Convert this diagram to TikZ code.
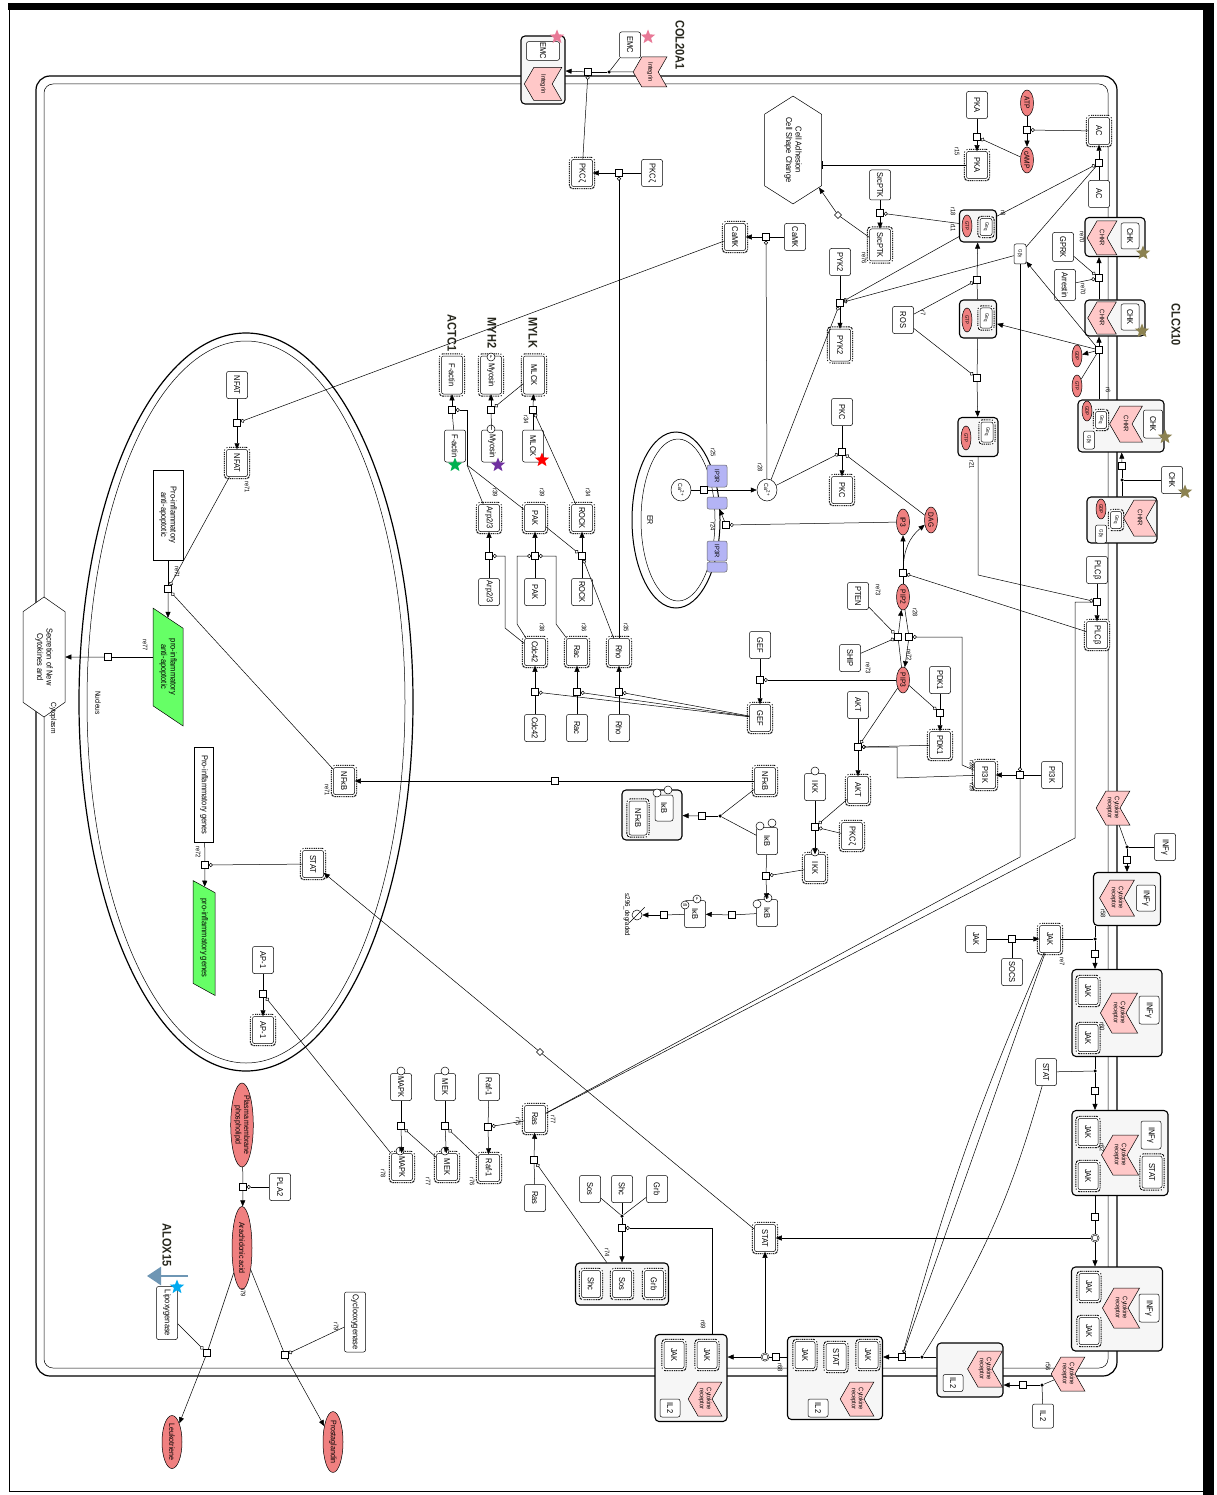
\documentclass[tikz,border=0pt]{standalone}
\usepackage{fontspec}
\setmainfont{Liberation Sans}[FakeStretch=0.88]
\usetikzlibrary{arrows.meta,shapes.geometric,shapes.symbols}
\definecolor{recpink}{RGB}{255,200,200}
\definecolor{smred}{RGB}{240,128,128}
\definecolor{ip3blue}{RGB}{180,180,245}
\definecolor{cpxgray}{RGB}{246,246,246}
\definecolor{genegreen}{RGB}{102,255,102}
\definecolor{starpink}{RGB}{232,120,150}
\definecolor{starolive}{RGB}{140,130,80}
\definecolor{starpurple}{RGB}{112,48,160}
\definecolor{stargreen}{RGB}{0,176,80}
\definecolor{starblue}{RGB}{0,170,240}
\definecolor{arrowblue}{RGB}{110,150,180}
\definecolor{genetext}{RGB}{40,40,30}
\tikzset{
  every node/.style={font=\fontsize{8.5}{9.5}\selectfont},
  prot/.style={draw, rounded corners=2pt, fill=white, rotate=-90, minimum width=27pt, minimum height=21pt, inner sep=1pt},
  act/.style={prot, preaction={draw, line width=5.4pt, dash pattern=on 1pt off 0.8pt}, preaction={draw=white, line width=3.4pt}},
  sm/.style={ellipse, draw, fill=smred, rotate=-90, minimum width=26pt, minimum height=13pt, inner sep=0pt, font=\fontsize{7.5}{8}\selectfont},
  bigsm/.style={sm, font=\fontsize{8}{8.5}\selectfont},
  smsm/.style={sm, minimum width=22pt, minimum height=10pt, font=\fontsize{5}{5}\selectfont},
  ion/.style={ellipse, draw, fill=white, rotate=-90, minimum width=22pt, minimum height=20pt, inner sep=0pt, font=\fontsize{6}{6.5}\selectfont},
  rec/.style={signal, signal to=south, signal from=north, signal pointer angle=120, draw, fill=recpink, rotate=-90, minimum width=30pt, minimum height=26pt, inner sep=0.5pt, align=center, font=\fontsize{6.5}{7}\selectfont},
  gsub/.style={act, minimum width=17pt, minimum height=12pt, inner sep=0.3pt, font=\fontsize{5}{5}\selectfont},
  gbg/.style={prot, minimum width=18pt, minimum height=11pt, inner sep=0.3pt, font=\fontsize{5}{5}\selectfont},
  cplx/.style={draw, line width=1.1pt, rounded corners=4pt, fill=cpxgray},
  pr/.style={draw, fill=white, minimum size=7pt, inner sep=0pt},
  dt/.style={circle, fill, minimum size=3.5pt, inner sep=0pt},
  dc/.style={circle, draw, double, fill=white, minimum size=7pt, inner sep=0pt},
  res/.style={circle, draw, fill=white, minimum size=8pt, inner sep=0pt, font=\fontsize{4}{4}\selectfont},
  hexa/.style={signal, signal to=east and west, draw, fill=white, rotate=-90, align=center},
  gen/.style={trapezium, trapezium left angle=56, trapezium right angle=124, trapezium stretches=true, draw, fill=genegreen, rotate=-90, align=center},
  txtbox/.style={draw, fill=white, rotate=-90, align=center, inner sep=2pt},
  ip3r/.style={draw=black!60, fill=ip3blue, rounded corners=2pt, rotate=-90, minimum height=20pt, inner sep=0.5pt, font=\fontsize{6.5}{6.5}\selectfont},
  star5/.style={star, star points=5, star point ratio=2.3, minimum size=15pt, inner sep=0pt},
  gene/.style={rotate=-90, font=\bfseries\fontsize{12.5}{12.5}\selectfont, text=genetext},
  lbl/.style={rotate=-90, font=\fontsize{6.5}{7}\selectfont},
  arr/.style={-{Triangle[length=6pt, width=5pt]}},
  cat/.style={-{Circle[open, length=4pt, width=4pt]}},
  inh/.style={-{Bar[width=8pt]}}
}
\begin{document}
\begin{tikzpicture}[x=1pt, y=-1pt, line width=0.5pt]
	\useasboundingbox (0,0) rectangle (1216,1495);
	\fill[white] (0,0) rectangle (1216,1495);
	\draw[line width=1pt] (9,9) -- (9,1491) -- (1205,1491);
	\fill (8,3) rectangle (1214,10);
	\fill (1203,3) rectangle (1214,1495);
	\draw[line width=1.2pt, rounded corners=14pt] (36,76) rectangle (1117,1376);
	\draw[rounded corners=9pt] (44,84) rectangle (1108,1368);
	\draw[line width=1.2pt] (246,702) ellipse [x radius=167pt, y radius=369pt];
	\draw (246,702) ellipse [x radius=159pt, y radius=361pt];
	\draw[line width=1pt] (676,520) ellipse [x radius=44pt, y radius=88pt];
	\draw (678,520) ellipse [x radius=37pt, y radius=81pt];
	\draw[arrowblue, line width=2.5pt, -{Triangle[length=14pt, width=18pt]}] (188,1276) -- (147,1276);

	\draw (543,70) node [cplx, minimum width=44pt, minimum height=68pt] (IntC) {};
	\draw (978,226) node [cplx, minimum width=37pt, minimum height=32pt] (GC1) {};
	\draw (978,319) node [cplx, minimum width=37pt, minimum height=38pt] (GC2) {};
	\draw (978,437) node [cplx, minimum width=40pt, minimum height=39pt] (GC3) {};
	\draw (1115,237) node [cplx, minimum width=60pt, minimum height=39pt] (CA) {};
	\draw (1115,318) node [cplx, minimum width=60pt, minimum height=36pt] (CB) {};
	\draw (1121,426) node [cplx, minimum width=86pt, minimum height=52pt] (CC) {};
	\draw (1122,520) node [cplx, minimum width=70pt, minimum height=46pt] (CD) {};
	\draw (652,815) node [cplx, minimum width=60pt, minimum height=50pt] (NFC) {};
	\draw (622,1284) node [cplx, minimum width=93pt, minimum height=42pt] (SSG) {};
	\draw (691,1378) node [cplx, minimum width=72pt, minimum height=87pt] (CE) {};
	\draw (835,1378) node [cplx, minimum width=95pt, minimum height=83pt] (CF) {};
	\draw (970,1370) node [cplx, minimum width=66pt, minimum height=54pt] (CG) {};
	\draw (1127,899) node [cplx, minimum width=67pt, minimum height=53pt] (CH) {};
	\draw (1117,1013) node [cplx, minimum width=90pt, minimum height=87pt] (CI) {};
	\draw (1120,1153) node [cplx, minimum width=96pt, minimum height=85pt] (CJ) {};
	\draw (1117,1309) node [cplx, minimum width=91pt, minimum height=84pt] (CK) {};

	\draw (680,45) node [gene] (gCOL) {COL20A1};
	\draw (630,45) node [prot, minimum width=26pt] (EMCf) {EMC};
	\draw (648,37) node [star5, fill=starpink] (sEMC) {};
	\draw (650,72) node [rec, minimum width=30pt, minimum height=28pt] (Intf) {Integrin};
	\draw (543,51) node [prot, minimum width=17pt, minimum height=33pt] (EMCc) {EMC};
	\draw (543,84) node [rec, minimum width=33pt, minimum height=30pt] (Intc) {Integrin};
	\draw (557,37) node [star5, fill=starpink] (sIntC) {};
	\draw (588,72) node [pr] (pInt) {};
	\draw (609,72) node [dt] (dInt) {};
	\draw (652,173) node [prot] (PKCzf) {PKCζ};
	\draw (582,173) node [act] (PKCz') {PKCζ};
	\draw (619,173) node [pr] (pPKCz) {};
	\draw (795,237) node [prot] (CaMKf) {CaMK};
	\draw (735,237) node [act] (CaMK') {CaMK};
	\draw (766,237) node [pr] (pCaMK) {};
	\draw (793,150) node [hexa, minimum width=98pt, minimum height=57pt, signal pointer angle=115] (Adh) {Cell Adhesion\\Cell Shape Change};
	\draw (977,105) node [prot] (PKAf) {PKA};
	\draw (977,165) node [act] (PKA') {PKA};
	\draw (977,137) node [pr] (pPKA) {};
	\draw (1027,103) node [sm] (ATP) {ATP};
	\draw (1027,160) node [sm] (cAMP) {cAMP};
	\draw (1027,130) node [pr] (pcAMP) {};
	\draw (1099,131) node [act] (AC') {AC};
	\draw (1099,194) node [prot] (ACf) {AC};
	\draw (1099,163) node [pr] (pAC) {};
	\draw (880,185) node [prot, minimum width=30pt] (Srcf) {SrcPTK};
	\draw (880,245) node [act, minimum width=32pt] (Src') {SrcPTK};
	\draw (880,213) node [pr] (pSrc) {};
	\draw (838,215) node [pr, rotate=45, minimum size=5pt] (pAdh) {};
	\draw (840,262) node [prot] (PYKf) {PYK2};
	\draw (840,345) node [act, minimum width=32pt] (PYK') {PYK2};
	\draw (840,303) node [pr] (pPYK) {};

	\draw (967,226) node [smsm] (GTP1) {GTP};
	\draw (986,227) node [gsub] (Ga1) {Gα\textsubscript{q}};
	\draw (967,320) node [smsm, minimum width=24pt] (GTP2) {GTP};
	\draw (986,318) node [gsub, minimum width=20pt] (Ga2) {Gα\textsubscript{q}};
	\draw (966,438) node [smsm, minimum width=24pt] (GTP3) {GTP};
	\draw (987,432) node [gsub, minimum width=20pt] (Ga3) {Gα\textsubscript{q}};
	\draw (977,280) node [pr] (pG12) {};
	\draw (977,378) node [pr] (pG23) {};
	\draw (903,320) node [prot] (ROS) {ROS};
	\draw (1020,254) node [gbg, minimum width=20pt, minimum height=12pt] (Gbg) {Gβγ};
	\draw (1063,247) node [prot, minimum width=29pt] (GPRK) {GPRK};
	\draw (1065,285) node [prot, minimum width=31pt] (Arr) {Arrestin};

	\draw (1102,238) node [rec, minimum width=34pt, minimum height=20pt] (CHKRa) {CHKR};
	\draw (1130,236) node [prot, minimum width=26pt, minimum height=18pt] (CHKa) {CHK};
	\draw (1143,253) node [star5, fill=starolive] (sCA) {};
	\draw (1099,278) node [pr] (pCA) {};
	\draw (1102,318) node [rec, minimum width=32pt, minimum height=20pt] (CHKRb) {CHKR};
	\draw (1130,317) node [prot, minimum width=26pt, minimum height=18pt] (CHKb) {CHK};
	\draw (1142,331) node [star5, fill=starolive] (sCB) {};
	\draw (1099,350) node [pr] (pCB) {};
	\draw (1077,356) node [smsm] (GDPb) {GDP};
	\draw (1077,386) node [smsm] (GTPb) {GTP};
	\draw (1153,424) node [prot, minimum width=28pt, minimum height=19pt] (CHKc) {CHK};
	\draw (1126,424) node [rec, minimum width=36pt, minimum height=22pt] (CHKRc) {CHKR};
	\draw (1101,420) node [gsub, minimum height=11pt] (Gac) {Gα\textsubscript{q}};
	\draw (1087,411) node [smsm, minimum width=20pt] (GDPc) {GDP};
	\draw (1089,440) node [gbg] (Gbgc) {Gβγ};
	\draw (1165,437) node [star5, fill=starolive] (sCC) {};
	\draw (1172,480) node [prot] (CHKf) {CHK};
	\draw (1185,492) node [star5, fill=starolive] (sCHK) {};
	\draw (1122,480) node [dt] (dCC) {};
	\draw (1122,466) node [pr] (pCC) {};
	\draw (1140,518) node [rec, minimum width=36pt, minimum height=22pt] (CHKRd) {CHKR};
	\draw (1116,520) node [gsub, minimum height=11pt] (Gad) {Gα\textsubscript{q}};
	\draw (1101,509) node [smsm, minimum width=20pt] (GDPd) {GDP};
	\draw (1101,534) node [gbg] (Gbgd) {Gβγ};
	\draw (1176,325) node [gene] (gCLC) {CLCX10};

	\draw (1097,570) node [prot] (PLCf) {PLCβ};
	\draw (1097,635) node [act] (PLC') {PLCβ};
	\draw (1097,602) node [pr] (pPLC) {};
	\draw (1052,775) node [prot] (PI3Kf) {PI3K};
	\draw (985,775) node [act] (PI3K') {PI3K};
	\draw (1020,775) node [pr] (pPI3K) {};
	\coordinate (kG3) at (978,575);
	\coordinate (kP1) at (1075,838);
	\coordinate (kP2) at (1020,857);
	\coordinate (kPI) at (962,765);
	\coordinate (kPA) at (897,778);

	\draw (931,520) node [sm] (DAG) {DAG};
	\draw (903,522) node [sm] (IP3) {IP3};
	\draw (903,597) node [sm] (PIP2) {PIP2};
	\draw (903,680) node [sm] (PIP3) {PIP3};
	\draw (903,573) node [pr] (pPIP2) {};
	\draw (898,637) node [pr] (pPIP3a) {};
	\draw (909,637) node [pr] (pPIP3b) {};
	\draw (858,596) node [prot] (PTEN) {PTEN};
	\draw (850,658) node [prot] (SHIP) {SHIP};
	\draw (842,412) node [prot] (PKCf) {PKC};
	\draw (842,490) node [act] (PKC') {PKC};
	\draw (842,452) node [pr] (pPKC) {};
	\draw (940,680) node [prot] (PDKf) {PDK1};
	\draw (940,745) node [act] (PDK') {PDK1};
	\draw (940,713) node [pr] (pPDK) {};
	\draw (858,705) node [prot] (AKTf) {AKT};
	\draw (858,790) node [act] (AKT') {AKT};
	\draw (858,747) node [pr] (pAKT) {};
	\draw (760,645) node [prot] (GEFf) {GEF};
	\draw (760,718) node [act] (GEF') {GEF};
	\draw (760,680) node [pr] (pGEF) {};
	\draw (767,490) node [ion] (Ca') {Ca\textsuperscript{2+}};
	\draw (681,490) node [ion] (CaER) {Ca\textsuperscript{2+}};
	\draw (717,476) node [ip3r, minimum width=22pt] (IPR1) {IP3R};
	\draw (717,503) node [ip3r, minimum width=12pt] (IPR2) {};
	\draw (717,551) node [ip3r, minimum width=20pt] (IPR3) {IP3R};
	\draw (717,567) node [ip3r, minimum width=10pt] (IPR4) {};
	\draw (704,490) node [pr] (pCa) {};
	\draw (726,525) node [pr] (pIP3) {};

	\draw (619,652) node [act] (Rho') {Rho};
	\draw (619,728) node [prot] (Rhof) {Rho};
	\draw (619,692) node [pr] (pRho) {};
	\draw (577,652) node [act] (Rac') {Rac};
	\draw (577,728) node [prot] (Racf) {Rac};
	\draw (577,692) node [pr] (pRac) {};
	\draw (535,652) node [act] (Cdc') {Cdc42};
	\draw (535,728) node [prot] (Cdcf) {Cdc42};
	\draw (535,692) node [pr] (pCdc) {};
	\draw (582,518) node [act] (ROCK') {ROCK};
	\draw (582,592) node [prot] (ROCKf) {ROCK};
	\draw (582,556) node [pr] (pROCK) {};
	\draw (535,518) node [act] (PAK') {PAK};
	\draw (535,592) node [prot] (PAKf) {PAK};
	\draw (535,556) node [pr] (pPAK) {};
	\draw (489,518) node [act] (Arp') {Arp2/3};
	\draw (489,592) node [prot] (Arpf) {Arp2/3};
	\draw (489,556) node [pr] (pArp) {};
	\coordinate (kC1) at (505,628);
	\coordinate (kC2) at (517,624);
	\coordinate (kC3) at (556,624);
	\coordinate (kF) at (467,465);
	\draw (534,375) node [act, minimum width=38pt] (MLCK') {MLCK};
	\draw (533,446) node [prot, minimum width=32pt] (MLCKf) {MLCK};
	\draw (533,410) node [pr] (pMLCK) {};
	\draw (491,375) node [act, minimum width=38pt] (Myo') {Myosin};
	\draw (492,446) node [prot, minimum width=32pt] (Myof) {Myosin};
	\draw (491,410) node [pr] (pMyo) {};
	\draw (452,375) node [act, minimum width=38pt] (FA') {F-actin};
	\draw (455,446) node [prot, minimum width=32pt] (FAf) {F-actin};
	\draw (452,410) node [pr] (pFA) {};
	\draw (542,460) node [star5, fill=red] (sMLCK) {};
	\draw (498,465) node [star5, fill=starpurple] (sMyo) {};
	\draw (455,465) node [star5, fill=stargreen] (sFA) {};
	\draw (533,333) node [gene] (gMYLK) {MYLK};
	\draw (492,333) node [gene] (gMYH) {MYH2};
	\draw (452,333) node [gene] (gACT) {ACTC1};

	\draw (765,781) node [act] (NFf) {NFκB};
	\draw (815,787) node [prot] (IKKf) {IKK};
	\draw (815,868) node [act] (IKK') {IKK};
	\draw (815,827) node [pr] (pIKK) {};
	\draw (852,836) node [act] (PKCz2) {PKCζ};
	\draw (767,841) node [prot] (IkBf) {IκB};
	\draw (766,876) node [pr] (pIkB) {};
	\draw (767,913) node [prot] (IkBP) {IκB};
	\draw (732,915) node [pr] (pIkB2) {};
	\draw (695,914) node [prot] (IkBPU) {IκB};
	\draw (664,915) node [pr] (pDeg) {};
	\draw (637,915) node [circle, draw, minimum size=10pt, inner sep=0pt] (Deg) {};
	\draw (627,915) node [lbl, font=\fontsize{7}{7}\selectfont] (lDeg) {s296\_degraded};
	\draw (638,818) node [act, minimum width=34pt, minimum height=18pt] (NFc) {NFκB};
	\draw (664,808) node [prot, minimum width=26pt, minimum height=18pt] (IkBc) {IκB};
	\draw (720,816) node [dt] (dNF) {};
	\draw (702,816) node [pr] (pNF) {};
	\draw (555,781) node [pr] (pNFn) {};

	\draw (237,385) node [prot] (NATf) {NFAT};
	\draw (237,463) node [act] (NAT') {NFAT};
	\draw (237,423) node [pr] (pNAT) {};
	\draw (168,515) node [txtbox, minimum width=90pt, minimum height=30pt] (PAA) {Pro-inflammatory\\anti-apoptotic};
	\draw (168,589) node [pr] (pPAA) {};
	\draw (168,667) node [gen, minimum width=119pt, minimum height=30pt] (PAAg) {pro-inflammatory\\anti-apoptotic};
	\draw (108,657) node [pr] (pSec) {};
	\draw (44,657) node [hexa, minimum width=120pt, minimum height=42pt, signal pointer angle=110] (Sec) {Secretion of New\\Cytokines and};
	\draw (344,781) node [act] (NFn) {NFκB};
	\draw (204,795) node [txtbox, minimum width=95pt, minimum height=19pt] (PIG) {Pro-inflammatory genes};
	\draw (205,865) node [pr] (pPIG) {};
	\draw (204,938) node [gen, trapezium left angle=52, trapezium right angle=128, minimum width=115pt, minimum height=22pt] (PIGg) {pro-inflammatory genes};
	\draw (313,864) node [act] (STn) {STAT};
	\draw (263,960) node [prot] (AP1f) {AP-1};
	\draw (263,1030) node [act] (AP1') {AP-1};
	\draw (263,994) node [pr] (pAP1) {};

	\draw (242,1125) node [bigsm, minimum width=84pt, minimum height=21pt, align=center] (PMP) {Plasma membrane\\phospholipid};
	\draw (243,1187) node [pr] (pPLA) {};
	\draw (280,1187) node [prot] (PLA2) {PLA2};
	\draw (242,1248) node [bigsm, minimum width=83pt, minimum height=20pt] (AA) {Arachidonic acid};
	\draw (167,1313) node [prot, minimum width=53pt] (Lip) {Lipoxygenase};
	\draw (355,1322) node [prot, minimum width=60pt] (Cyc) {Cyclooxygenase};
	\draw (207,1353) node [pr] (pLip) {};
	\draw (285,1355) node [pr] (pCyc) {};
	\draw (172,1442) node [bigsm, minimum width=53pt, minimum height=20pt] (Leu) {Leukotriene};
	\draw (333,1442) node [bigsm, minimum width=50pt, minimum height=20pt] (Pro) {Prostaglandin};
	\draw (167,1245) node [gene] (gALOX) {ALOX15};
	\draw (177,1287) node [star5, fill=starblue] (sLip) {};

	\draw (401,1087) node [prot] (MAPKf) {MAPK};
	\draw (402,1167) node [act] (MAPK') {MAPK};
	\draw (401,1126) node [pr] (pMAPK) {};
	\draw (445,1087) node [prot] (MEKf) {MEK};
	\draw (447,1167) node [act] (MEK') {MEK};
	\draw (445,1126) node [pr] (pMEK) {};
	\draw (489,1087) node [prot] (Raff) {Raf-1};
	\draw (489,1168) node [act] (Raf') {Raf-1};
	\draw (488,1127) node [pr] (pRaf) {};
	\draw (535,1119) node [act] (Ras') {Ras};
	\draw (535,1198) node [prot] (Rasf) {Ras};
	\draw (534,1160) node [pr] (pRas) {};
	\draw (590,1189) node [prot] (Sos) {Sos};
	\draw (622,1189) node [prot] (Shc) {Shc};
	\draw (657,1189) node [prot] (Grb) {Grb};
	\draw (622,1216) node [dt] (dSSG) {};
	\draw (622,1228) node [pr] (pSSG) {};
	\draw (591,1284) node [act, minimum height=19pt] (Shcc) {Shc};
	\draw (622,1284) node [act, minimum height=19pt] (Sosc) {Sos};
	\draw (654,1284) node [act, minimum height=19pt] (Grbc) {Grb};
	\coordinate (kE) at (712,1228);

	\draw (765,1238) node [act] (ST2) {STAT};
	\draw (540,1052) node [pr, rotate=45, minimum size=5pt] (pSTn) {};
	\draw (674,1355) node [act, minimum height=20pt] (jE1) {JAK};
	\draw (707,1355) node [act, minimum height=20pt] (jE2) {JAK};
	\draw (705,1399) node [rec, minimum width=34pt, minimum height=24pt] (crE) {Cytokine\\receptor};
	\draw (670,1408) node [prot, minimum width=18pt, minimum height=20pt] (ilE) {IL2};
	\draw (765,1357) node [dc] (dcE) {};
	\draw (776,1357) node [pr] (pE) {};
	\draw (805,1355) node [act, minimum height=20pt] (jF1) {JAK};
	\draw (836,1357) node [act, minimum height=20pt] (sF) {STAT};
	\draw (868,1355) node [act, minimum height=20pt] (jF2) {JAK};
	\draw (857,1399) node [rec, minimum width=34pt, minimum height=24pt] (crF) {Cytokine\\receptor};
	\draw (818,1408) node [prot, minimum width=18pt, minimum height=20pt] (ilF) {IL2};
	\draw (902,1357) node [pr] (pF) {};
	\draw (922,1357) node [dt] (dF) {};
	\draw (985,1369) node [rec, minimum width=36pt, minimum height=26pt] (crG) {Cytokine\\receptor};
	\draw (953,1383) node [prot, minimum width=17pt, minimum height=20pt] (ilG) {IL2};
	\draw (1023,1385) node [pr] (pG) {};
	\draw (1042,1385) node [dt] (dG) {};
	\draw (1043,1416) node [prot, minimum width=24pt] (IL2f) {IL2};
	\draw (1068,1374) node [rec, minimum width=34pt, minimum height=26pt] (CRg) {Cytokine\\receptor};

	\draw (1113,808) node [rec, minimum width=34pt, minimum height=26pt] (CRh) {Cytokine\\receptor};
	\draw (1165,847) node [prot] (INFf) {INFγ};
	\draw (1127,847) node [dt] (dH) {};
	\draw (1127,860) node [pr] (pH) {};
	\draw (1117,898) node [rec, minimum width=36pt, minimum height=24pt] (crH) {Cytokine\\receptor};
	\draw (1146,898) node [prot, minimum width=26pt, minimum height=19pt] (inH) {INFγ};
	\draw (976,939) node [prot] (JAKf) {JAK};
	\draw (1012,939) node [pr] (pJ) {};
	\draw (1012,972) node [prot] (SOCS) {SOCS};
	\draw (1050,939) node [act] (JAK') {JAK};
	\draw (1095,939) node [dt] (dI) {};
	\draw (1095,954) node [pr] (pI) {};
	\draw (1088,991) node [act, minimum height=20pt] (jI1) {JAK};
	\draw (1088,1038) node [act, minimum height=20pt] (jI2) {JAK};
	\draw (1119,1013) node [rec, minimum width=40pt, minimum height=24pt] (crI) {Cytokine\\receptor};
	\draw (1149,1010) node [prot, minimum width=28pt, minimum height=20pt] (inI) {INFγ};
	\draw (1046,1072) node [prot] (STATf) {STAT};
	\draw (1095,1071) node [dt] (dJ) {};
	\draw (1095,1091) node [pr] (pJ2) {};
	\draw (1088,1132) node [act, minimum height=20pt] (jJ1) {JAK};
	\draw (1088,1176) node [act, minimum height=20pt] (jJ2) {JAK};
	\draw (1120,1155) node [rec, minimum width=40pt, minimum height=24pt] (crJ) {Cytokine\\receptor};
	\draw (1151,1135) node [prot, minimum width=28pt, minimum height=20pt] (inJ) {INFγ};
	\draw (1152,1172) node [act, minimum width=32pt, minimum height=20pt] (sJ) {STAT};
	\draw (1095,1217) node [pr] (pK) {};
	\draw (1095,1238) node [dc] (dcK) {};
	\draw (1089,1287) node [act, minimum height=20pt] (jK1) {JAK};
	\draw (1089,1331) node [act, minimum height=20pt] (jK2) {JAK};
	\draw (1121,1308) node [rec, minimum width=40pt, minimum height=24pt] (crK) {Cytokine\\receptor};
	\draw (1149,1308) node [prot, minimum width=28pt, minimum height=20pt] (inK) {INFγ};

	\draw (401,1071) node [res] (c1) {};
	\draw (445,1071) node [res] (c2) {};
	\draw (400,1151) node [res] (c3) {P};
	\draw (445,1151) node [res] (c4) {P};
	\draw (815,771) node [res] (c5) {};
	\draw (815,852) node [res] (c6) {P};
	\draw (760,826) node [res] (c7) {};
	\draw (772,823) node [res] (c8) {};
	\draw (768,898) node [res] (c9) {P};
	\draw (757,904) node [res] (c10) {};
	\draw (697,899) node [res] (c11) {P};
	\draw (685,905) node [res] (c12) {Ub};
	\draw (491,357) node [res] (c13) {P};
	\draw (491,429) node [res] (c14) {};
	\draw (657,793) node [res] (c15) {};
	\draw (668,790) node [res] (c16) {};

	\draw (EMCf) -- (dInt);
	\draw (Intf) -- (dInt);
	\draw (dInt) -- (pInt);
	\draw[arr] (pInt) -- (IntC);
	\draw[cat] (PKCz') -- (pInt);
	\draw (PKCzf) -- (pPKCz);
	\draw[arr] (pPKCz) -- (PKCz');
	\draw[cat] (Rho') -- (pPKCz);
	\draw (CaMKf) -- (pCaMK);
	\draw[arr] (pCaMK) -- (CaMK');
	\draw[cat] (Ca') -- (pCaMK);
	\draw[cat] (CaMK') -- (pNAT);
	\draw (PKAf) -- (pPKA);
	\draw[arr] (pPKA) -- (PKA');
	\draw[cat] (cAMP) -- (pPKA);
	\draw[inh] (PKA') -- (Adh.north |- PKA');
	\draw (ATP) -- (pcAMP);
	\draw[arr] (pcAMP) -- (cAMP);
	\draw[cat] (AC') -- (pcAMP);
	\draw (ACf) -- (pAC);
	\draw[arr] (pAC) -- (AC');
	\draw[cat] (GC1) -- (pAC);
	\draw (Gbg) -- (pAC);
	\draw (Srcf) -- (pSrc);
	\draw[arr] (pSrc) -- (Src');
	\draw[cat] (GC1) -- (pSrc);
	\draw[arr] (Src') -- (pAdh) -- (Adh);
	\draw (PYKf) -- (pPYK);
	\draw[arr] (pPYK) -- (PYK');
	\draw[cat] (GC1) -- (pPYK);
	\draw[cat] (Gbg) -- (pPYK);
	\draw[cat] (Ca') -- (pPYK);
	\draw (GC2) -- (pG12);
	\draw[arr] (pG12) -- (GC1);
	\draw[cat] (ROS) -- (pG12);
	\draw (GC2) -- (pG23);
	\draw[arr] (pG23) -- (GC3);
	\draw[cat] (ROS) -- (pG23);
	\draw (pCA |- CB.north) -- (pCA);
	\draw[arr] (pCA) -- (pCA |- CA.south);
	\draw[cat] (GPRK) -- (pCA);
	\draw[cat] (Arr) -- (pCA);
	\draw (pCB |- CC.north) -- (pCB);
	\draw[arr] (pCB) -- (pCB |- CB.south);
	\draw[arr] (pCB) -- (GDPb);
	\draw (GTPb) -- (pCB);
	\draw[arr] (pCB) -- (GC2);
	\draw[arr] (pCB) -- (Gbg);
	\draw (CD) -- (dCC);
	\draw (CHKf) -- (dCC);
	\draw (dCC) -- (pCC);
	\draw[arr] (pCC) -- (CC);
	\draw (PLCf) -- (pPLC);
	\draw[arr] (pPLC) -- (PLC');
	\draw[cat] (GC3) -- (kG3) -- (pPLC);
	\draw (pPLC) -| (kP1) -- (Ras');
	\draw[cat] (PLC') -- (pPIP2);
	\draw[cat] (Gbg) -- (pPI3K);
	\draw (pPI3K) -- (kP2) -- (Ras');
	\draw (PI3Kf) -- (pPI3K);
	\draw[arr] (pPI3K) -- (PI3K');
	\draw[cat] (PI3K') -- (kPI) |- (pPIP3b);
	\draw[cat] (PI3K') -- (kPA) |- (pAKT);

	\draw (PIP2) -- (pPIP2);
	\draw[arr] (pPIP2) -- (IP3);
	\draw[arr] (pPIP2) to[bend left=25] (DAG);
	\draw (PIP3) -- (pPIP3a);
	\draw[arr] (pPIP3a) -- (PIP2);
	\draw (PIP2) -- (pPIP3b);
	\draw[arr] (pPIP3b) -- (PIP3);
	\draw[cat] (PTEN) -- (pPIP3a);
	\draw[cat] (SHIP) -- (pPIP3a);
	\draw[cat] (IP3) -- (pIP3);
	\draw[cat] (DAG) -- (pPKC);
	\draw (PKCf) -- (pPKC);
	\draw[arr] (pPKC) -- (PKC');
	\draw[cat] (Ca') -- (pPKC);
	\draw (PDKf) -- (pPDK);
	\draw[arr] (pPDK) -- (PDK');
	\draw[cat] (PIP3) -- (pPDK);
	\draw[cat] (PDK') -- (pAKT);
	\draw (AKTf) -- (pAKT);
	\draw[arr] (pAKT) -- (AKT');
	\draw[cat] (PIP3) -- (pAKT);
	\draw (GEFf) -- (pGEF);
	\draw[arr] (pGEF) -- (GEF');
	\draw[cat] (PIP3) -- (pGEF);
	\draw (CaER) -- (pCa);
	\draw[arr] (pCa) -- (Ca');
	\draw[arr] (pIP3) -- (IPR2);

	\draw (Rhof) -- (pRho);
	\draw[arr] (pRho) -- (Rho');
	\draw (Racf) -- (pRac);
	\draw[arr] (pRac) -- (Rac');
	\draw (Cdcf) -- (pCdc);
	\draw[arr] (pCdc) -- (Cdc');
	\draw[cat] (GEF') -- (pRho);
	\draw[cat] (GEF') -- (pRac);
	\draw[cat] (GEF') -- (pCdc);
	\draw (ROCKf) -- (pROCK);
	\draw[arr] (pROCK) -- (ROCK');
	\draw (PAKf) -- (pPAK);
	\draw[arr] (pPAK) -- (PAK');
	\draw (Arpf) -- (pArp);
	\draw[arr] (pArp) -- (Arp');
	\draw[cat] (Rho') -- (pROCK);
	\draw[cat] (PAK') -- (pROCK);
	\draw[cat] (Cdc') -- (kC1) |- (pArp);
	\draw[cat] (Cdc') -- (kC2) |- (pPAK);
	\draw[cat] (Rac') -- (kC3) |- (pPAK);
	\draw (MLCKf) -- (pMLCK);
	\draw[arr] (pMLCK) -- (MLCK');
	\draw[cat] (ROCK') -- (pMLCK);
	\draw (Myof) -- (pMyo);
	\draw[arr] (pMyo) -- (Myo');
	\draw[cat] (MLCK') -- (pMyo);
	\draw (FAf) -- (pFA);
	\draw[arr] (pFA) -- (FA');
	\draw (PAK') -- (kF);
	\draw (Arp') -- (kF);
	\draw[cat] (kF) |- (pFA);

	\draw (NFf) -- (dNF);
	\draw (IkBf) -- (dNF);
	\draw (dNF) -- (pNF);
	\draw[arr] (pNF) -- (NFC);
	\draw (IkBf) -- (pIkB);
	\draw[arr] (pIkB) -- (IkBP);
	\draw[cat] (IKK') -- (pIkB);
	\draw (IkBP) -- (pIkB2);
	\draw[arr] (pIkB2) -- (IkBPU);
	\draw (IkBPU) -- (pDeg);
	\draw[arr] (pDeg) -- (Deg);
	\draw ([shift={(4,-4)}]Deg.north east) -- ([shift={(-4,4)}]Deg.south west);
	\draw (IKKf) -- (pIKK);
	\draw[arr] (pIKK) -- (IKK');
	\draw[cat] (AKT') -- (pIKK);
	\draw[cat] (PKCz2) -- (pIKK);
	\draw (NFf) -- (pNFn);
	\draw[arr] (pNFn) -- (NFn);

	\draw (NATf) -- (pNAT);
	\draw[arr] (pNAT) -- (NAT');
	\draw[cat] (NAT') -- (pPAA);
	\draw (PAA) -- (pPAA);
	\draw[arr] (pPAA) -- (PAAg);
	\draw[cat] (NFn) -- (pPAA);
	\draw (PAAg.south |- pSec) -- (pSec);
	\draw[arr] (pSec) -- (Sec);
	\draw (PIG) -- (pPIG);
	\draw[arr] (pPIG) -- (PIGg);
	\draw[cat] (STn) -- (pPIG);
	\draw (AP1f) -- (pAP1);
	\draw[arr] (pAP1) -- (AP1');
	\draw[cat] (MAPK') -- (pAP1);

	\draw (PMP) -- (pPLA);
	\draw[arr] (pPLA) -- (AA);
	\draw[cat] (PLA2) -- (pPLA);
	\draw (AA) -- (pLip);
	\draw[arr] (pLip) -- (Leu);
	\draw[cat] (Lip) -- (pLip);
	\draw (AA) -- (pCyc);
	\draw[arr] (pCyc) -- (Pro);
	\draw[cat] (Cyc) -- (pCyc);

	\draw (Raff) -- (pRaf);
	\draw[arr] (pRaf) -- (Raf');
	\draw[cat] (Ras') -- (pRaf);
	\draw (MEKf) -- (pMEK);
	\draw[arr] (pMEK) -- (MEK');
	\draw[cat] (Raf') -- (pMEK);
	\draw (MAPKf) -- (pMAPK);
	\draw[arr] (pMAPK) -- (MAPK');
	\draw[cat] (MEK') -- (pMAPK);
	\draw (Rasf) -- (pRas);
	\draw[arr] (pRas) -- (Ras');
	\draw[cat] (SSG) -- (pRas);
	\draw (Sos) -- (dSSG);
	\draw (Shc) -- (dSSG);
	\draw (Grb) -- (dSSG);
	\draw (dSSG) -- (pSSG);
	\draw[arr] (pSSG) -- (SSG);
	\draw[cat] (kE |- CE.north) -- (kE) -- (pSSG);
	\draw (ST2) -- (pSTn);
	\draw[arr] (pSTn) -- (STn);

	\draw (CF.west |- pE) -- (pE);
	\draw (pE) -- (dcE);
	\draw[arr] (dcE) -- (dcE -| CE.east);
	\draw[arr] (dcE) -- (ST2);
	\draw (CG.west |- dF) -- (dF);
	\draw (dF) -- (pF);
	\draw[arr] (pF) -- (pF -| CF.east);
	\draw[cat] (JAK') -- (pF);
	\draw (JAK') to[bend right=4] (pF);
	\draw (STATf) to[bend left=8] (dF);
	\draw (CRg) -- (dG);
	\draw (IL2f) -- (dG);
	\draw (dG) -- (pG);
	\draw[arr] (pG) -- (pG -| CG.east);

	\draw (CRh) -- (dH);
	\draw (INFf) -- (dH);
	\draw (dH) -- (pH);
	\draw[arr] (pH) -- (CH);
	\draw (JAKf) -- (pJ);
	\draw[arr] (pJ) -- (JAK');
	\draw (SOCS) -- (pJ);
	\draw (JAK') -- (dI);
	\draw (CH.south -| dI) -- (dI);
	\draw (dI) -- (pI);
	\draw[arr] (pI) -- (pI |- CI.north);
	\draw (CI.south -| dJ) -- (dJ);
	\draw (STATf) -- (dJ);
	\draw (dJ) -- (pJ2);
	\draw[arr] (pJ2) -- (pJ2 |- CJ.north);
	\draw (CJ.south -| pK) -- (pK);
	\draw (pK) -- (dcK);
	\draw[arr] (dcK) -- (dcK |- CK.north);
	\draw[arr] (dcK) -- (ST2);

	\draw (957,152) node [lbl] (l1) {r15};
	\draw (953,212) node [lbl] (l2) {r18};
	\draw (953,228) node [lbl] (l3) {r11};
	\draw (1003,213) node [lbl] (l4) {r8};
	\draw (864,258) node [lbl] (l5) {re76};
	\draw (1082,237) node [lbl] (l6) {re70};
	\draw (1083,289) node [lbl] (l7) {re70};
	\draw (923,313) node [lbl] (l8) {r7};
	\draw (1108,390) node [lbl] (l9) {r6};
	\draw (972,465) node [lbl] (l10) {r21};
	\draw (713,453) node [lbl] (l11) {r25};
	\draw (760,468) node [lbl] (l12) {r28};
	\draw (713,527) node [lbl] (l13) {r24};
	\draw (878,590) node [lbl] (l14) {re73};
	\draw (868,668) node [lbl] (l15) {re73};
	\draw (915,613) node [lbl] (l16) {r28};
	\draw (909,655) node [lbl] (l17) {re72};
	\draw (972,765) node [lbl] (l18) {r28};
	\draw (972,788) node [lbl] (l19) {r29};
	\draw (526,420) node [lbl] (l20) {r34};
	\draw (588,493) node [lbl] (l21) {r34};
	\draw (542,493) node [lbl] (l22) {r39};
	\draw (495,493) node [lbl] (l23) {r39};
	\draw (626,628) node [lbl] (l24) {r35};
	\draw (584,628) node [lbl] (l25) {r36};
	\draw (542,628) node [lbl] (l26) {r38};
	\draw (247,487) node [lbl] (l27) {re71};
	\draw (177,572) node [lbl] (l28) {re71};
	\draw (145,645) node [lbl] (l29) {re77};
	\draw (327,790) node [lbl] (l30) {re71};
	\draw (198,852) node [lbl] (l31) {re72};
	\draw (607,1253) node [lbl] (l32) {r74};
	\draw (518,1122) node [lbl] (l33) {r75};
	\draw (553,1120) node [lbl] (l34) {r77};
	\draw (472,1182) node [lbl] (l35) {r76};
	\draw (428,1182) node [lbl] (l36) {r77};
	\draw (383,1174) node [lbl] (l37) {r78};
	\draw (703,1325) node [lbl] (l38) {r69};
	\draw (780,1368) node [lbl] (l39) {r68};
	\draw (1048,1367) node [lbl] (l40) {r56};
	\draw (1103,914) node [lbl] (l41) {r58};
	\draw (1062,962) node [lbl] (l42) {re7};
	\draw (1102,1027) node [lbl] (l43) {r60};
	\draw (1102,1148) node [lbl] (l44) {r62};
	\draw (243,1293) node [lbl] (l45) {r79};
	\draw (336,1327) node [lbl] (l46) {r79};
	\draw (53,718) node [lbl, font=\fontsize{7.5}{8}\selectfont] (l47) {Cytoplasm};
	\draw (98,703) node [lbl, font=\fontsize{7.5}{8}\selectfont] (l48) {Nucleus};
	\draw (650,520) node [lbl, font=\fontsize{8}{9}\selectfont] (l49) {ER};
\end{tikzpicture}
\end{document}
